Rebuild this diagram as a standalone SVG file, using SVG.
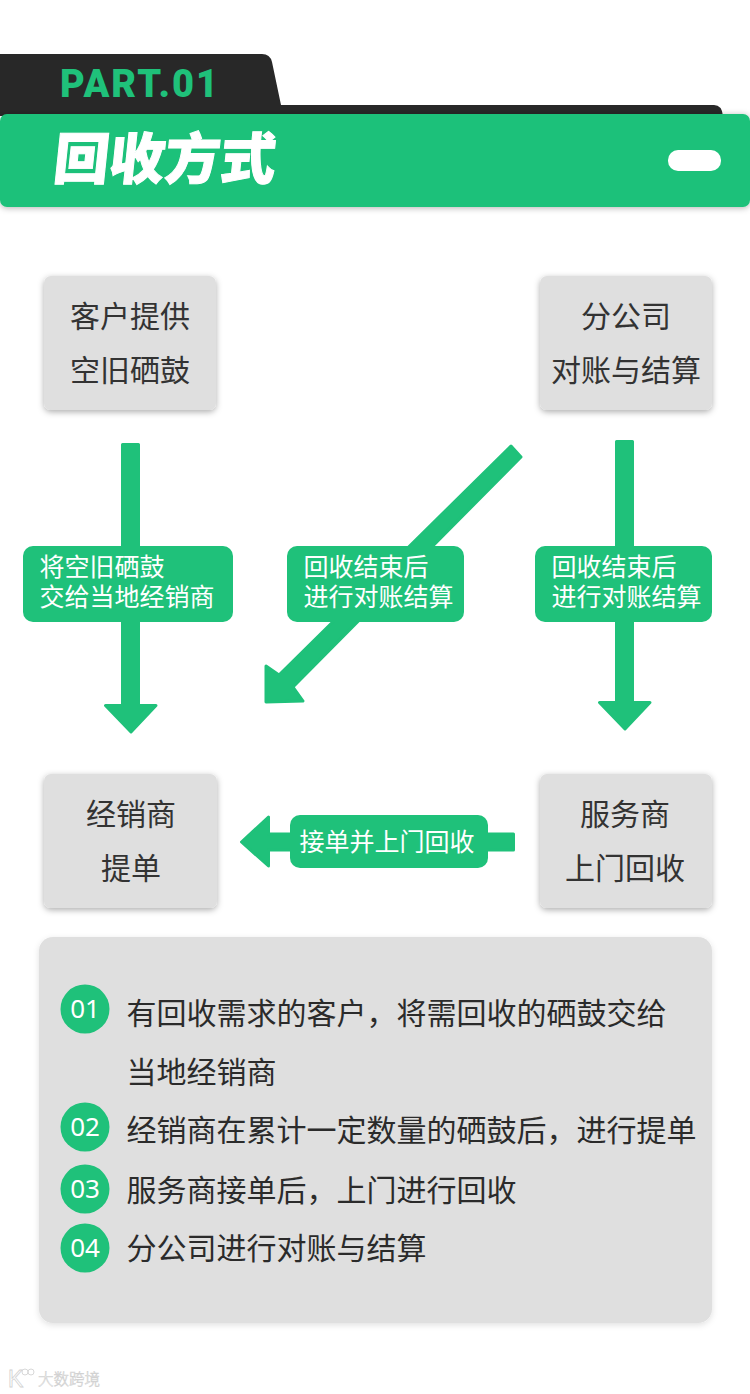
<svg xmlns="http://www.w3.org/2000/svg" width="750" height="1394" viewBox="0 0 750 1394">
<style>
.t{font-family:"Noto Sans CJK SC","Noto Sans",sans-serif;}
.box{fill:#dfdfdf;filter:url(#s);}
.bt{font-size:30px;fill:#333;text-anchor:middle;font-weight:400;}
.g{fill:#1fc17a;}
.lb{font-size:25px;fill:#fff;font-weight:400;}
.ln{font-size:30px;fill:#2b2b2b;font-weight:400;}
.num{font-family:"Noto Sans","Liberation Sans",sans-serif;font-size:26px;fill:#fff;text-anchor:middle;}
.ar{fill:#1fc17a;stroke:#1fc17a;stroke-width:3;stroke-linejoin:round;}
</style>
<defs>
<filter id="s" x="-10%" y="-10%" width="120%" height="125%"><feDropShadow dx="0" dy="2" stdDeviation="3" flood-color="#000" flood-opacity="0.32"/></filter>
<filter id="s2" x="-5%" y="-20%" width="110%" height="140%"><feDropShadow dx="0" dy="1" stdDeviation="3" flood-color="#000" flood-opacity="0.3"/></filter>
<filter id="s3" x="-5%" y="-5%" width="110%" height="110%"><feDropShadow dx="0" dy="2" stdDeviation="3" flood-color="#000" flood-opacity="0.12"/></filter>
</defs>
<rect width="750" height="1394" fill="#fff"/>
<g id="header">
<path d="M0 54H262Q270 54 272 62L281 105H714Q722 105 723 116H0Z" fill="#282828"/>
<rect x="0" y="114" width="750" height="93" rx="7" class="g" filter="url(#s2)"/>
<rect x="668" y="150" width="53" height="21" rx="10" fill="#fff"/>
<text x="60" y="97" style="font-family:Roboto,'Liberation Sans',sans-serif" font-size="38" font-weight="900" fill="#1fc17a" letter-spacing="2">PART.01</text>
<text class="t" transform="translate(52 179) skewX(-6)" font-size="55.500" font-weight="900" fill="#fff" stroke="#fff" stroke-width="1">回收方式</text>
</g>
<g id="connectors">
<polygon class="ar" points="122.500,444.500 138.500,444.500 138.500,705.500 156,705.500 131,732 105.500,705.500 122.500,705.500"/>
<polygon class="ar" points="616.500,441.500 632.500,441.500 632.500,702.500 650,702.500 625,729 599.500,702.500 616.500,702.500"/>
<polygon class="ar" points="511,446 521,457 293,687 303,701 266,702 266,666 279,675"/>
<polygon class="ar" points="513.500,834 513.500,850 268.500,850 268.500,866 241.500,842 268.500,817 268.500,834"/>
</g>
<g id="node-customer"><rect class="box" x="44" y="276" width="172" height="134" rx="7"/><text class="t bt" x="130" y="327">客户提供</text><text class="t bt" x="130" y="381">空旧硒鼓</text></g>
<g id="node-branch"><rect class="box" x="540" y="276" width="172" height="134" rx="7"/><text class="t bt" x="626" y="327">分公司</text><text class="t bt" x="626" y="381">对账与结算</text></g>
<g id="node-dealer"><rect class="box" x="44" y="774" width="173" height="134" rx="7"/><text class="t bt" x="131" y="825">经销商</text><text class="t bt" x="131" y="879">提单</text></g>
<g id="node-service"><rect class="box" x="540" y="774" width="172" height="134" rx="7"/><text class="t bt" x="625" y="825">服务商</text><text class="t bt" x="625" y="879">上门回收</text></g>
<g id="label-1"><rect class="g" x="23" y="546" width="210" height="76" rx="10"/><text class="t lb"><tspan x="39.500" y="576">将空旧硒鼓</tspan><tspan x="39.500" y="606">交给当地经销商</tspan></text></g>
<g id="label-2"><rect class="g" x="287" y="546" width="177" height="76" rx="10"/><text class="t lb"><tspan x="303.500" y="576">回收结束后</tspan><tspan x="303.500" y="606">进行对账结算</tspan></text></g>
<g id="label-3"><rect class="g" x="535" y="546" width="177" height="76" rx="10"/><text class="t lb"><tspan x="551.500" y="576">回收结束后</tspan><tspan x="551.500" y="606">进行对账结算</tspan></text></g>
<g id="label-4"><rect class="g" x="290" y="815" width="198" height="53" rx="10"/><text class="t lb" x="299.500" y="851">接单并上门回收</text></g>
<g id="notes">
<rect x="39" y="937" width="673" height="386" rx="14" fill="#dfdfdf" filter="url(#s3)"/>
<circle class="g" cx="85" cy="1009" r="24.500"/><text class="num" x="85" y="1018">01</text>
<circle class="g" cx="85" cy="1127" r="24.500"/><text class="num" x="85" y="1136">02</text>
<circle class="g" cx="85" cy="1189" r="24.500"/><text class="num" x="85" y="1198">03</text>
<circle class="g" cx="85" cy="1248" r="24.500"/><text class="num" x="85" y="1257">04</text>
<text class="t ln" x="126.500" y="1024">有回收需求的客户，将需回收的硒鼓交给</text>
<text class="t ln" x="126.500" y="1083">当地经销商</text>
<text class="t ln" x="126.500" y="1141">经销商在累计一定数量的硒鼓后，进行提单</text>
<text class="t ln" x="126.500" y="1201">服务商接单后，上门进行回收</text>
<text class="t ln" x="126.500" y="1259">分公司进行对账与结算</text>
</g>
<g id="watermark">
<text class="t" x="38" y="1385" font-size="15.500" font-weight="300" fill="#fff" stroke="#d2d2d2" stroke-width="0.6">大数跨境</text>
<text x="8" y="1387" style="font-family:'Liberation Sans',sans-serif" font-size="23" fill="#fff" stroke="#d2d2d2" stroke-width="0.8">K</text>
<circle cx="25" cy="1372" r="3" fill="none" stroke="#d8d8d8"/><circle cx="31" cy="1372" r="3" fill="none" stroke="#d8d8d8"/>
</g>
</svg>
